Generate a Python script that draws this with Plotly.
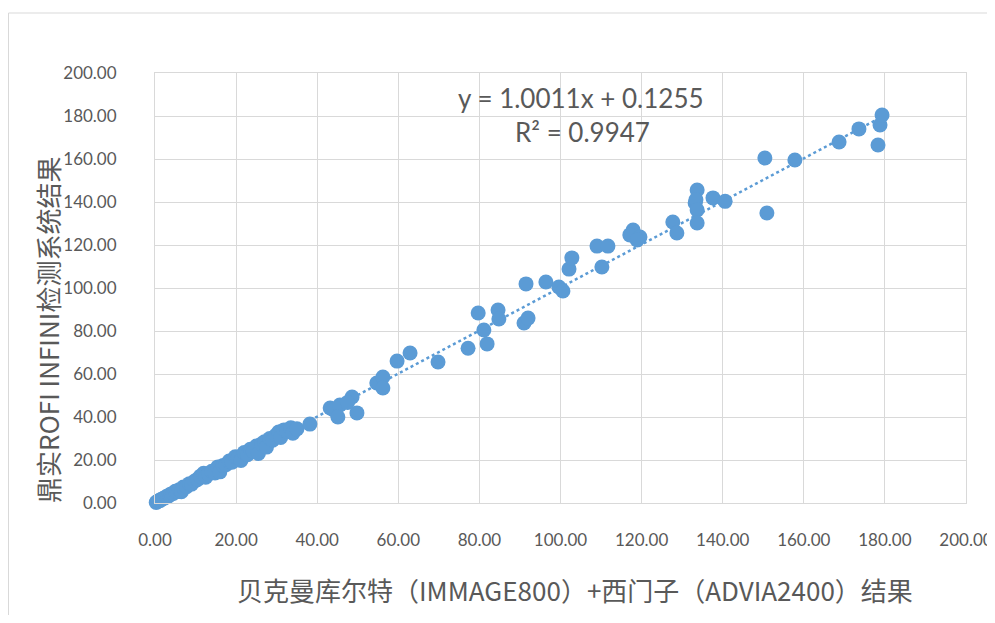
import plotly.graph_objects as go

# Data (x: Beckman+Siemens, y: ROFI INFINI)
x_vals = [0.3, 0.5, 0.8, 1.0, 1.3, 1.6, 2.0, 2.4, 2.8, 3.2, 3.6, 4.0, 4.5, 5.0, 5.5, 6.0, 6.5, 7.0,
          7.8, 8.5, 9.0, 9.8, 10.5, 11.2, 12.0, 12.5, 13.2, 14.0, 14.8, 15.5, 16.0, 16.8, 17.5,
          18.3, 19.0, 19.8, 20.5, 21.2, 22.0, 22.8, 23.5, 24.2, 25.0, 25.5, 26.3, 27.0, 27.5,
          28.3, 29.0, 29.8, 30.5, 31.0, 31.8, 32.5, 33.5, 34.0, 35.0, 38.2,
          43.2, 44.1, 45.6, 45.1, 48.6, 49.8, 47.5, 54.7, 56.2, 56.2, 59.7, 62.9, 69.8, 77.2,
          79.7, 81.1, 81.9, 84.6, 84.8, 91.0, 92.0, 91.5, 96.4, 99.6, 100.6, 102.1, 102.8,
          109.0, 111.7, 110.2, 117.9, 117.1, 119.6, 118.9, 127.7, 128.7, 133.7, 133.2, 133.4,
          133.7, 133.7, 137.6, 140.6, 150.4, 150.9, 157.8, 168.7, 173.6, 178.3, 178.8, 179.3]
y_vals = [0.2, 0.6, 0.9, 1.1, 1.2, 1.8, 2.1, 2.3, 3.0, 3.1, 3.8, 4.2, 4.4, 5.5, 5.3, 6.2, 5.2, 7.4,
          7.6, 9.0, 8.8, 10.2, 11.0, 12.5, 13.8, 12.0, 13.5, 14.8, 14.0, 16.8, 14.5, 17.5, 17.8,
          19.5, 19.0, 21.5, 21.0, 19.8, 23.5, 22.5, 25.0, 24.0, 26.5, 23.0, 27.5, 28.5, 26.0,
          30.0, 29.2, 31.5, 33.0, 30.5, 34.0, 33.5, 35.0, 32.5, 34.5, 36.7,
          44.2, 43.3, 45.6, 40.0, 49.3, 41.9, 46.8, 55.8, 58.6, 53.5, 66.0, 69.8, 65.6, 72.0,
          88.4, 80.5, 74.0, 89.8, 85.6, 83.7, 86.0, 101.9, 102.8, 100.5, 98.6, 108.8, 114.0,
          119.5, 119.5, 109.8, 127.0, 124.7, 123.7, 122.3, 130.7, 125.6, 145.6, 139.5, 141.0,
          136.3, 130.2, 141.9, 140.3, 160.5, 134.9, 159.5, 167.9, 174.0, 166.5, 175.8, 180.5]

slope = 1.0011
intercept = 0.1255
eq_text = "y = 1.0011x + 0.1255"
r2_text = "R² = 0.9947"
x_title = "贝克曼库尔特（IMMAGE800）+西门子（ADVIA2400）结果"
y_title = "鼎实ROFI INFINI检测系统结果"
tick_vals = [0, 20, 40, 60, 80, 100, 120, 140, 160, 180, 200]
tick_text = ["%.2f" % v for v in tick_vals]

# page has an 8px body margin; figure placed at (8, 8)
OFF = 8
W, H = 987, 607
L, T = 155 - OFF, 73 - OFF
PW, PH = 811, 430
R = W - L - PW
B = H - T - PH


def px(xp):  # reference page pixel -> paper x
    return (xp - OFF - L) / PW


def py(yp):  # reference page pixel -> paper y
    return (T + PH - (yp - OFF)) / PH


blue = "#5b9bd5"
grid = "#d9d9d9"
txt = "#595959"

x_line = [min(x_vals), max(x_vals)]
y_line = [slope * v + intercept for v in x_line]

fig = go.Figure()
fig.add_trace(go.Scatter(x=x_line, y=y_line, mode="lines",
                         line=dict(color=blue, width=2.5, dash="dot"),
                         hoverinfo="skip", showlegend=False, cliponaxis=False))
fig.add_trace(go.Scatter(x=x_vals, y=y_vals, mode="markers",
                         marker=dict(color=blue, size=15, line=dict(width=0)),
                         showlegend=False, cliponaxis=False))

axis_common = dict(range=[0, 200], tickvals=tick_vals, ticktext=tick_text,
                   showgrid=True, gridcolor=grid, gridwidth=1,
                   showline=True, linecolor=grid, linewidth=1, mirror=True,
                   zeroline=False, ticks="outside", tickcolor="rgba(0,0,0,0)",
                   tickfont=dict(family="Lato, Liberation Sans, sans-serif", size=17, color=txt),
                   fixedrange=True)

fig.update_layout(
    width=W, height=H,
    margin=dict(l=L, r=R, t=T, b=B, autoexpand=False),
    paper_bgcolor="white", plot_bgcolor="white",
    xaxis=dict(axis_common, ticklen=22),
    yaxis=dict(axis_common, ticklen=34),
    annotations=[
        dict(x=px(581), y=py(98), xref="paper", yref="paper", text=eq_text, showarrow=False,
             font=dict(family="Lato, Liberation Sans, sans-serif", size=26, color=txt),
             xanchor="center", yanchor="middle"),
        dict(x=px(582), y=py(132), xref="paper", yref="paper", text=r2_text, showarrow=False,
             font=dict(family="Lato, Liberation Sans, sans-serif", size=26, color=txt),
             xanchor="center", yanchor="middle"),
        dict(x=px(575), y=py(589), xref="paper", yref="paper", text=x_title, showarrow=False,
             font=dict(family="Noto Sans CJK SC, sans-serif", size=26, color=txt),
             xanchor="center", yanchor="middle"),
        dict(x=px(47), y=py(330), xref="paper", yref="paper", text=y_title, showarrow=False,
             textangle=-90,
             font=dict(family="Noto Sans CJK SC, sans-serif", size=26, color=txt),
             xanchor="center", yanchor="middle"),
    ],
    shapes=[dict(type="rect", xref="paper", yref="paper",
                 x0=px(8.5), y0=py(660), x1=px(1030), y1=py(13),
                 line=dict(color=grid, width=1), fillcolor="rgba(0,0,0,0)", layer="below")],
)

fig.write_html("out.html")
